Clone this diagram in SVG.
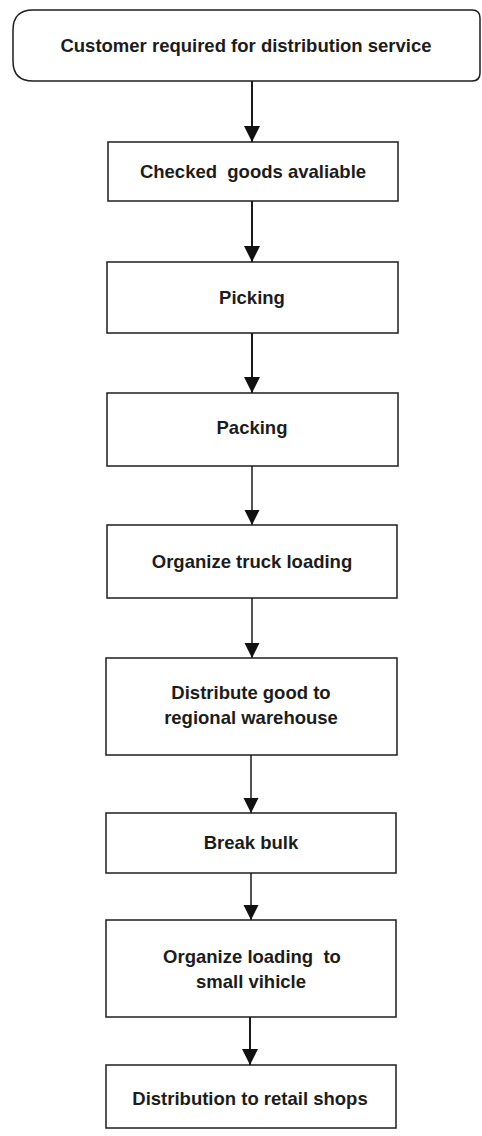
<svg xmlns="http://www.w3.org/2000/svg" width="482" height="1136" viewBox="0 0 482 1136">
  <style>
    .box { fill: #ffffff; stroke: #1e1e1e; stroke-width: 1.5; }
    .lbl { font-family: "Liberation Sans", Arial, sans-serif; font-weight: bold; font-size: 18.5px; fill: #1c1c1c; text-anchor: middle; }
    .flow { stroke: #1a1a1a; stroke-width: 2; fill: none; marker-end: url(#head); }
    .flow.thin { stroke-width: 1.5; marker-end: url(#head-sm); }
  </style>
  <defs>
    <marker id="head" markerUnits="userSpaceOnUse" markerWidth="18" markerHeight="18" refX="16" refY="8" orient="auto">
      <path d="M0,0 L16,8 L0,16 Z" fill="#111111"/>
    </marker>
    <marker id="head-sm" markerUnits="userSpaceOnUse" markerWidth="16" markerHeight="16" refX="15" refY="7.5" orient="auto">
      <path d="M0,0 L15,7.5 L0,15 Z" fill="#111111"/>
    </marker>
  </defs>
  <rect width="482" height="1136" fill="#ffffff"/>

  <!-- process steps -->
  <g id="start">
    <path class="box" d="M33,10 H472 Q480,10 480,18 V73 Q480,81 472,81 H33 Q13,81 13,61 V30 Q13,10 33,10 Z"/>
    <text class="lbl" x="246" y="52">Customer required for distribution service</text>
  </g>
  <g id="check">
    <rect class="box" x="108" y="142" width="290" height="59"/>
    <text class="lbl" x="253" y="178" xml:space="preserve">Checked  goods avaliable</text>
  </g>
  <g id="picking">
    <rect class="box" x="107" y="262" width="291" height="71"/>
    <text class="lbl" x="252" y="304">Picking</text>
  </g>
  <g id="packing">
    <rect class="box" x="107" y="393" width="291" height="73"/>
    <text class="lbl" x="252" y="434">Packing</text>
  </g>
  <g id="truck">
    <rect class="box" x="107" y="525" width="290" height="73"/>
    <text class="lbl" x="252" y="568">Organize truck loading</text>
  </g>
  <g id="regional">
    <rect class="box" x="106" y="658" width="291" height="97"/>
    <text class="lbl" x="251" y="699">Distribute good to</text>
    <text class="lbl" x="251" y="724">regional warehouse</text>
  </g>
  <g id="bulk">
    <rect class="box" x="106" y="813" width="290" height="60"/>
    <text class="lbl" x="251" y="849">Break bulk</text>
  </g>
  <g id="small">
    <rect class="box" x="106" y="920" width="290" height="97"/>
    <text class="lbl" x="252" y="963" xml:space="preserve">Organize loading  to</text>
    <text class="lbl" x="251" y="988">small vihicle</text>
  </g>
  <g id="retail">
    <rect class="box" x="106" y="1065" width="290" height="63"/>
    <text class="lbl" x="250" y="1105">Distribution to retail shops</text>
  </g>

  <!-- connectors -->
  <g id="connectors">
    <line class="flow" x1="252" y1="81" x2="252" y2="142"/>
    <line class="flow" x1="252" y1="201" x2="252" y2="262"/>
    <line class="flow" x1="252" y1="333" x2="252" y2="393"/>
    <line class="flow thin" x1="252" y1="466" x2="252" y2="525"/>
    <line class="flow thin" x1="252" y1="598" x2="252" y2="658"/>
    <line class="flow thin" x1="251" y1="755" x2="251" y2="813"/>
    <line class="flow thin" x1="251" y1="873" x2="251" y2="920"/>
    <line class="flow" x1="250" y1="1017" x2="250" y2="1065"/>
  </g>
</svg>
